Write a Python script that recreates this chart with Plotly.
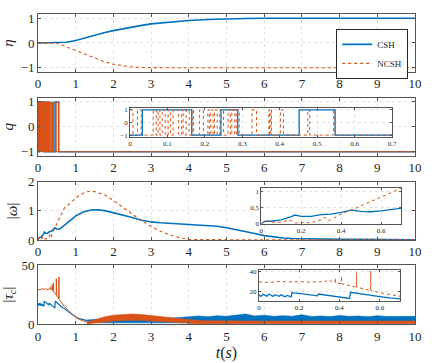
import plotly.graph_objects as go

BLUE = '#0072BD'
ORANGE = '#D95319'
FONT = 'Liberation Serif'
INK = '#262626'

# ---------------- data ----------------
# panel 1: eta
eta_t = [0, 0.25, 0.5, 0.6, 0.75, 1.0, 1.25, 1.5, 1.75, 2.0, 2.25, 2.5, 2.75, 3.0,
         3.5, 4.0, 4.5, 5.0, 5.5, 6.0, 7.0, 8.0, 9.0, 10.0]
eta_csh = [0, 0, 0, 0.005, 0.03, 0.1, 0.21, 0.32, 0.41, 0.5, 0.58, 0.65, 0.71, 0.77,
           0.85, 0.91, 0.95, 0.98, 0.99, 1.0, 1.0, 1.0, 1.0, 1.0]
eta_ncsh = [0, 0, -0.01, -0.05, -0.16, -0.3, -0.46, -0.61, -0.75, -0.86, -0.93, -0.97,
            -0.99, -1.0, -1.0, -1.0, -1.0, -1.0, -1.0, -1.0, -1.0, -1.0, -1.0, -1.0]

# panel 2: q (switching signals, step-wise)
q_csh_t = [0, 0.033, 0.165, 0.243, 0.288, 0.452, 0.548, 10]
q_csh = [-1, 1, -1, 1, -1, 1, -1, -1]
q_ncsh_t = [0, 0.008, 0.02, 0.03, 0.062, 0.07, 0.075, 0.08, 0.086, 0.094, 0.102, 0.108,
            0.115, 0.13, 0.138, 0.142, 0.15, 0.158, 0.166, 0.17, 0.186, 0.196, 0.208,
            0.212, 0.216, 0.222, 0.226, 0.233, 0.24, 0.25, 0.262, 0.268, 0.272, 0.28,
            0.284, 0.292, 0.326, 0.338, 0.371, 0.373, 0.376, 0.378, 0.402, 0.41,
            0.475, 0.48, 0.544, 0.548, 10]
q_ncsh = [1, -1, 1, -1, 1, -1, 1, -1, 1, -1, 1, -1,
          1, -1, 1, -1, 1, -1, 1, -1, 1, -1, 1,
          -1, 1, -1, 1, -1, 1, -1, 1, -1, 1, -1,
          1, -1, 1, -1, 1, -1, 1, -1, 1, -1,
          1, -1, 1, -1, -1]

# panel 3: |omega|
w_csh_t = [0, 0.02, 0.05, 0.1, 0.15, 0.17, 0.2, 0.25, 0.3, 0.35, 0.4, 0.45, 0.5, 0.55,
           0.6, 0.65, 0.7, 0.8, 0.9, 1.0, 1.2, 1.4, 1.6, 1.8, 2.0, 2.25, 2.5, 2.75, 3.0,
           3.25, 3.5, 3.75, 4.0, 4.25, 4.5, 4.75, 5.0, 5.25, 5.5, 5.75, 6.0, 6.25, 6.5,
           6.75, 7.0, 7.5, 8.0, 8.5, 9.0, 9.5, 10.0]
w_csh = [0, 0.08, 0.08, 0.12, 0.22, 0.27, 0.23, 0.23, 0.28, 0.3, 0.35, 0.42, 0.38, 0.37,
         0.4, 0.45, 0.52, 0.6, 0.72, 0.83, 0.96, 1.03, 1.04, 1.0, 0.94, 0.86, 0.77, 0.68,
         0.62, 0.59, 0.57, 0.56, 0.55, 0.53, 0.5, 0.47, 0.42, 0.36, 0.3, 0.22, 0.15,
         0.1, 0.07, 0.05, 0.04, 0.03, 0.02, 0.02, 0.01, 0.01, 0.01]
w_ncsh_t = [0, 0.02, 0.05, 0.1, 0.13, 0.15, 0.17, 0.2, 0.25, 0.28, 0.3, 0.32, 0.34, 0.4,
            0.45, 0.5, 0.55, 0.6, 0.65, 0.7, 0.8, 0.9, 1.0, 1.1, 1.25, 1.4, 1.5, 1.75,
            2.0, 2.25, 2.5, 2.75, 3.0, 3.25, 3.5, 3.75, 4.0, 4.5, 5.0, 6.0, 7.0, 8.0,
            9.0, 10.0]
w_ncsh = [0, 0.1, 0.05, 0.05, 0.1, 0.1, 0.02, 0.05, 0.03, 0.1, 0.12, 0.2, 0.1, 0.3,
          0.42, 0.56, 0.7, 0.82, 0.95, 1.1, 1.2, 1.33, 1.44, 1.53, 1.64, 1.68, 1.66,
          1.56, 1.36, 1.12, 0.88, 0.66, 0.46, 0.3, 0.17, 0.08, 0.02, 0.01, 0.01, 0.01,
          0.01, 0.01, 0.01, 0.01]

# panel 4: |tau_c| (transient part)
tau_csh_t = [0, 0.01, 0.02, 0.04, 0.05, 0.07, 0.08, 0.1, 0.11, 0.13, 0.14, 0.16, 0.165,
             0.17, 0.2, 0.22, 0.25, 0.29, 0.295, 0.32, 0.35, 0.4, 0.45, 0.455, 0.5,
             0.55, 0.6, 0.65, 0.7, 0.8, 0.9, 1.0, 1.1, 1.2, 1.3]
tau_csh = [17, 15.5, 17.5, 15.8, 17.8, 15.5, 17.2, 15.6, 17, 15.2, 16.5, 15, 19.5,
           19, 18.5, 17.8, 17.3, 16, 17.8, 17.2, 16.3, 15, 13.5, 19.5, 18,
           16.7, 15.3, 14, 13.2, 10.5, 8, 6, 4.5, 3.5, 2.8]
tau_ncsh_t = [0, 0.05, 0.1, 0.15, 0.2, 0.25, 0.3, 0.33, 0.335, 0.35, 0.36, 0.379,
              0.38, 0.381, 0.409, 0.41, 0.411, 0.45, 0.484, 0.485, 0.486, 0.5, 0.554,
              0.555, 0.556, 0.6, 0.65, 0.7, 0.8, 0.9, 1.0, 1.1, 1.2, 1.3, 1.4]
tau_ncsh = [29.5, 29, 30, 29.5, 29.8, 29.3, 29.7, 29.5, 31.5, 31, 29.8, 28.9,
            33.5, 28.8, 27.8, 35, 27.7, 26, 24.5, 38.5, 24.4, 23.8, 21.3,
            40, 21.2, 19.2, 17, 15, 12, 9, 5.5, 3.8, 2.5, 1.2, 0.4]

# panel 4: |tau_c| steady noisy band (lower / upper envelopes)
tau_band_t = [1.3, 1.5, 1.75, 2.0, 2.25, 2.5, 2.75, 3.0, 3.25, 3.5, 3.75, 4.0, 4.25,
              4.5, 4.75, 5.0, 5.25, 5.5, 5.75, 6.0, 6.25, 6.5, 6.75, 7.0, 7.25, 7.5,
              7.75, 8.0, 8.25, 8.5, 8.75, 9.0, 9.25, 9.5, 9.75, 10.0]
tau_csh_lo = [2.2, 1.2, 1.0, 1.0, 1.0, 1.0, 1.0, 1.0, 0.9, 0.9, 0.8, 0.8, 0.8,
              0.8, 0.8, 0.8, 0.8, 0.8, 0.8, 0.8, 0.8, 0.8, 0.8, 0.8, 0.8, 0.8,
              0.8, 0.8, 0.8, 0.8, 0.8, 0.8, 0.8, 0.8, 0.8, 0.8]
tau_csh_hi = [3.5, 4.0, 4.5, 5.0, 5.2, 5.0, 4.8, 4.6, 4.4, 4.8, 5.5, 6.0, 6.8,
              6.2, 7.0, 6.5, 7.2, 8.5, 6.8, 7.5, 6.5, 7.0, 6.6, 7.8, 6.4, 6.8,
              6.3, 7.2, 6.5, 6.8, 6.2, 7.0, 6.4, 6.6, 6.2, 6.5]
tau_ncsh_lo = [0.2, 0.5, 1.5, 2.5, 3.0, 3.2, 3.0, 2.5, 2.0, 1.5, 1.0, 0.5, 0.3,
               0.2, 0.2, 0.2, 0.2, 0.2, 0.2, 0.2, 0.2, 0.2, 0.2, 0.2, 0.2, 0.2,
               0.2, 0.2, 0.2, 0.2, 0.2, 0.2, 0.2, 0.2, 0.2, 0.2]
tau_ncsh_hi = [1.5, 3.5, 6.0, 7.5, 8.2, 8.5, 8.0, 7.2, 6.3, 5.3, 4.4, 3.5, 3.0,
               2.8, 2.6, 2.5, 2.5, 2.6, 2.5, 2.5, 2.5, 2.6, 2.5, 2.5, 2.5, 2.5,
               2.5, 2.5, 2.5, 2.5, 2.5, 2.5, 2.5, 2.5, 2.5, 2.5]

main_xticks = list(range(0, 11))
# ------------------------------------------------------------

fig = go.Figure()


def line(x, y, color, dotted, xa, ya, name=None, legend=False, shape='linear', width=None):
    fig.add_trace(go.Scatter(
        x=x, y=y, mode='lines', name=name, showlegend=legend,
        line=dict(color=color, width=width if width else (1.1 if dotted else 1.6),
                  dash='dot' if dotted else 'solid', shape=shape),
        xaxis=xa, yaxis=ya, hoverinfo='skip'))


def band(x, lo, hi, color, xa, ya):
    fig.add_trace(go.Scatter(x=x, y=lo, mode='lines', line=dict(color=color, width=0.6),
                             showlegend=False, xaxis=xa, yaxis=ya, hoverinfo='skip'))
    fig.add_trace(go.Scatter(x=x, y=hi, mode='lines', line=dict(color=color, width=0.6),
                             fill='tonexty', fillcolor=color, showlegend=False,
                             xaxis=xa, yaxis=ya, hoverinfo='skip'))


# panel 1
line(eta_t, eta_csh, BLUE, False, 'x', 'y', 'CSH', True)
line(eta_t, eta_ncsh, ORANGE, True, 'x', 'y', 'NCSH', True)
# panel 2
line(q_csh_t, q_csh, BLUE, False, 'x2', 'y2', shape='hv')
line(q_ncsh_t, q_ncsh, ORANGE, False, 'x2', 'y2', shape='hv', width=1.0)
# panel 3
line(w_csh_t, w_csh, BLUE, False, 'x3', 'y3')
line(w_ncsh_t, w_ncsh, ORANGE, True, 'x3', 'y3')
# panel 4
line(tau_csh_t, tau_csh, BLUE, False, 'x4', 'y4', width=1.2)
band(tau_band_t, tau_csh_lo, tau_csh_hi, BLUE, 'x4', 'y4')
line(tau_ncsh_t, tau_ncsh, ORANGE, False, 'x4', 'y4', width=1.0)
band(tau_band_t, tau_ncsh_lo, tau_ncsh_hi, ORANGE, 'x4', 'y4')
# insets
line(q_csh_t, q_csh, BLUE, False, 'x5', 'y5', shape='hv', width=1.3)
line(q_ncsh_t, q_ncsh, ORANGE, True, 'x5', 'y5', shape='hv', width=1.0)
line(w_csh_t, w_csh, BLUE, False, 'x6', 'y6', width=1.3)
line(w_ncsh_t, w_ncsh, ORANGE, True, 'x6', 'y6', width=1.0)
line(tau_csh_t, tau_csh, BLUE, False, 'x7', 'y7', width=1.3)
line(tau_ncsh_t, tau_ncsh, ORANGE, True, 'x7', 'y7', width=1.0)


def axis(small=False, **kw):
    d = dict(showline=True, linecolor='#555555', linewidth=0.8, mirror='ticks',
             ticks='inside', ticklen=2 if small else 3, tickwidth=0.8, tickcolor='#555555',
             showgrid=True, gridcolor='#e3e3e3', griddash='dot', gridwidth=0.8,
             zeroline=False, automargin=False,
             tickfont=dict(family=FONT, size=7 if small else 13, color=INK))
    d.update(kw)
    return d


def ytitle(t):
    return dict(text=t, font=dict(family=FONT, size=15, color=INK), standoff=6)


main_x = dict(range=[0, 10], tickvals=main_xticks)
layout = dict(
    xaxis=axis(domain=[0, 1], anchor='y', **main_x),
    yaxis=axis(domain=[0.813, 1.0], anchor='x', range=[-1.17, 1.17], tickvals=[-1, 0, 1],
               title=ytitle('<i>η</i>')),
    xaxis2=axis(domain=[0, 1], anchor='y2', **main_x),
    yaxis2=axis(domain=[0.542, 0.730], anchor='x2', range=[-1.17, 1.17],
                tickvals=[-1, 0, 1], title=ytitle('<i>q</i>')),
    xaxis3=axis(domain=[0, 1], anchor='y3', **main_x),
    yaxis3=axis(domain=[0.271, 0.459], anchor='x3', range=[0, 2], tickvals=[0, 1, 2],
                title=ytitle('|<i>ω</i>|')),
    xaxis4=axis(domain=[0, 1], anchor='y4', **main_x,
                title=dict(text='<i>t</i>(<i>s</i>)',
                           font=dict(family=FONT, size=16, color=INK), standoff=4)),
    yaxis4=axis(domain=[0, 0.19], anchor='x4', range=[0, 50], tickvals=[0, 50],
                title=ytitle('|<i>τ</i><sub><i>c</i></sub>|')),
    xaxis5=axis(True, domain=[0.244, 0.939], anchor='y5', range=[0, 0.7],
                tickvals=[0, 0.1, 0.2, 0.3, 0.4, 0.5, 0.6, 0.7]),
    yaxis5=axis(True, domain=[0.603, 0.697], anchor='x5', range=[-1.16, 1.16],
                tickvals=[-1, 0, 1]),
    xaxis6=axis(True, domain=[0.592, 0.963], anchor='y6', range=[0, 0.7],
                tickvals=[0, 0.2, 0.4, 0.6]),
    yaxis6=axis(True, domain=[0.323, 0.439], anchor='x6', range=[0, 1.1],
                tickvals=[0, 0.5, 1]),
    xaxis7=axis(True, domain=[0.586, 0.960], anchor='y7', range=[0, 0.7],
                tickvals=[0, 0.2, 0.4, 0.6]),
    yaxis7=axis(True, domain=[0.074, 0.174], anchor='x7', range=[11, 41],
                tickvals=[20, 40]),
)

fig.update_layout(
    width=436, height=363,
    margin=dict(l=38, r=21, t=14, b=39, autoexpand=False),
    paper_bgcolor='white', plot_bgcolor='white',
    font=dict(family=FONT, color=INK),
    legend=dict(x=0.982, y=0.952, xanchor='right', yanchor='top', bgcolor='white',
                bordercolor=INK, borderwidth=1, font=dict(family=FONT, size=9),
                traceorder='normal', tracegroupgap=0, itemwidth=30),
    **layout)

fig.write_html('out.html', config={'displayModeBar': False},
               post_script="document.body.style.margin='0px';")
